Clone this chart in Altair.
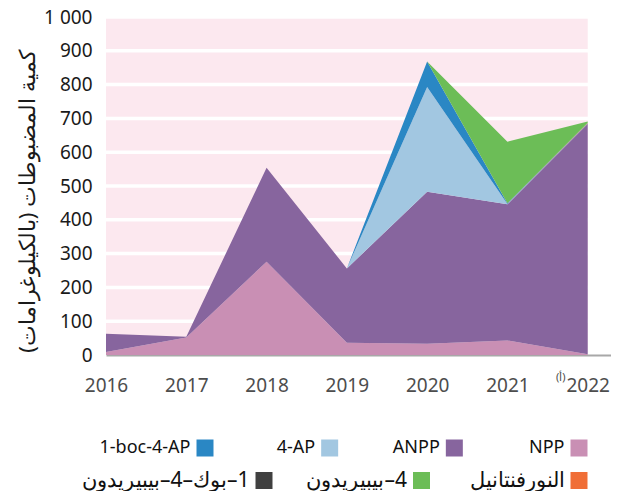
import altair as alt
import pandas as pd

years = [2016, 2017, 2018, 2019, 2020, 2021, 2022]
npp = [9, 52, 276, 36, 33, 43, 2]
anpp = [54, 2, 278, 220, 450, 403, 682]
ap4 = [0, 0, 0, 0, 310, 1, 1]
boc_ap = [0, 0, 0, 0, 75, 2, 1]
boc_pip = [0, 0, 0, 0, 0, 0, 0]
norf = [0, 0, 0, 0, 0, 0, 1]
pip4 = [0, 0, 0, 0, 0, 182, 4]

RLM = "\u200f"
names = ["NPP", "ANPP", "4-AP", "1-boc-4-AP",
         RLM + "1–بوك–4–بيبيريدون", RLM + "النورفنتانيل", RLM + "4–بيبيريدون"]
colors = ["#c98fb4", "#87659e", "#a2c7e1", "#2a87c4", "#404040", "#f06e37", "#6cbd57"]
series = [npp, anpp, ap4, boc_ap, boc_pip, norf, pip4]

y_ticks = [0, 100, 200, 300, 400, 500, 600, 700, 800, 900, 1000]
y_title = RLM + "كمية المضبوطات (بالكيلوغرامات)" + RLM
note = RLM + "(أ)" + RLM

legend_row1 = ["1-boc-4-AP", "4-AP", "ANPP", "NPP"]          # left -> right
legend_row2 = [names[4], names[6], names[5]]                  # left -> right

rows = []
for i, (nm, vals) in enumerate(zip(names, series)):
    for yr, v in zip(years, vals):
        rows.append({"year": yr, "series": nm, "value": v, "order": i})
df = pd.DataFrame(rows)

# pink panel drawn as bands between the gridline values (white gaps = gridlines)
bands_df = pd.DataFrame({"lo": y_ticks[:-1], "hi": y_ticks[1:]})

FONT = "Noto Sans"
X_END = 2022.29          # axis runs a little past the last year
PINK = "#fce8ef"
color_scale = alt.Scale(domain=names, range=colors)
one = alt.Data(values=[{}])

bands = alt.Chart(bands_df).mark_rect(color=PINK, yOffset=-1.75, y2Offset=1.75).encode(
    x=alt.X(datum=years[0], type="quantitative"),
    x2=alt.datum(years[-1]),
    y=alt.Y("lo:Q"),
    y2=alt.Y2("hi:Q"),
)

areas = alt.Chart(df).mark_area(interpolate="linear", opacity=1).encode(
    x=alt.X("year:Q", scale=alt.Scale(domain=[years[0], X_END], nice=False, zero=False),
            axis=alt.Axis(values=years, format="d", title=None, grid=False, ticks=False,
                          domainColor="#a8a8a8", domainWidth=2, labelFontSize=19,
                          labelColor="#4d4d4d", labelPadding=21, labelFont=FONT,
                          labelOverlap=False, labelFlush=False)),
    y=alt.Y("value:Q", stack="zero", scale=alt.Scale(domain=[0, 1000], nice=False),
            axis=alt.Axis(values=y_ticks, tickCount=11, format="d", title=y_title,
                          grid=False, ticks=False,
                          domain=False, labelFontSize=19, labelColor="#1a1a1a",
                          labelPadding=14, labelFont=FONT, labelOverlap=False,
                          labelSeparation=0, labelFlush=False,
                          labelExpr="datum.value == 1000 ? '1 000' : datum.label",
                          titleFontSize=22, titleFontWeight="normal", titleColor="#1a1a1a",
                          titleAngle=-90, titleX=-79, titleY=184, titleAlign="center",
                          titleBaseline="middle")),
    color=alt.Color("series:N", scale=color_scale, legend=None),
    order=alt.Order("order:Q", sort="ascending"),
)

annot = alt.Chart(one).mark_text(text=note, fontSize=11, dx=-27, dy=23, color="#4d4d4d",
                                 baseline="middle").encode(
    x=alt.X(datum=years[-1], type="quantitative"),
    y=alt.Y(datum=0, type="quantitative"),
)

main = alt.layer(bands, areas, annot).properties(width=505, height=338)


def legend_row(items, rng, rowval, fsize):
    d = pd.DataFrame({"series": items, "row": [rowval] * len(items)})
    xenc = alt.X("series:N", scale=alt.Scale(domain=items, range=rng, padding=0), axis=None)
    yenc = alt.Y("row:O", scale=alt.Scale(domain=[1, 2], range=[0, 32.5], padding=0), axis=None)
    sq = alt.Chart(d).mark_square(size=289, opacity=1, filled=True).encode(
        x=xenc, y=yenc, color=alt.Color("series:N", scale=color_scale, legend=None))
    tx = alt.Chart(d).mark_text(align="right", baseline="middle", dx=-14.5, fontSize=fsize,
                                font=FONT, color="#111111").encode(
        x=xenc, y=yenc, text="series:N")
    return [sq, tx]


legend = alt.layer(*legend_row(legend_row1, [99, 473], 1, 18),
                   *legend_row(legend_row2, [158, 473], 2, 21)).resolve_scale(
    x="independent").properties(width=505, height=32.5)

chart = alt.vconcat(main, legend, spacing=44).properties(
    padding={"left": 8, "top": 0, "right": 0, "bottom": 0},
).configure(
    font=FONT,
    view=alt.ViewConfig(stroke=None),
    axis=alt.AxisConfig(labelOverlap=False),
)

chart.save("out.html", embed_options={"renderer": "svg", "actions": False})
